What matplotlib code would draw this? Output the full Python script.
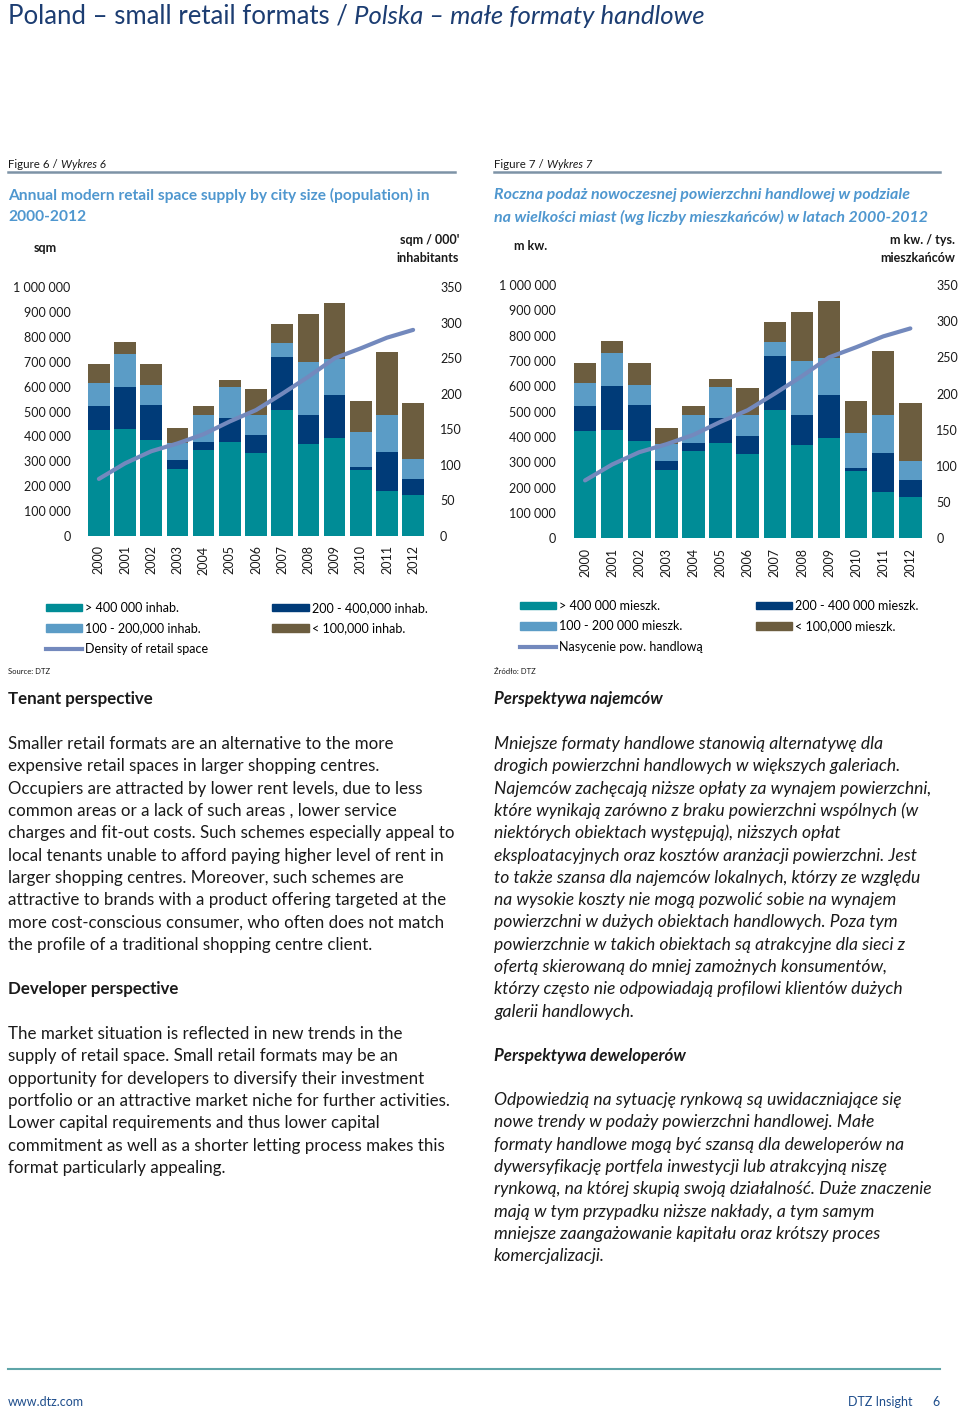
import matplotlib
matplotlib.use("Agg")
import matplotlib.pyplot as plt
from matplotlib.lines import Line2D
from matplotlib.patches import Patch
from matplotlib.ticker import FuncFormatter
import numpy as np

plt.rcParams['font.family'] = ['Lato', 'DejaVu Sans']

# ---- data ----
years = [str(y) for y in range(2000, 2013)]
# new supply per city-size group (sqm)
over_400k = [424000, 428000, 385000, 268000, 344000, 376000, 333000, 507000, 370000, 395000, 266000, 181000, 164000]
from_200_400k = [98000, 172000, 140000, 37000, 32000, 98000, 71000, 214000, 115000, 170000, 12000, 155000, 66000]
from_100_200k = [93000, 130000, 82000, 67000, 109000, 123000, 81000, 55000, 216000, 148000, 139000, 149000, 77000]
under_100k = [76000, 48000, 84000, 63000, 37000, 31000, 107000, 76000, 193000, 223000, 127000, 256000, 229000]
# density of retail space (sqm / 000 inhabitants)
density = [80, 102, 119, 130, 143, 161, 177, 200, 224, 250, 264, 279, 290]

labels_en = ["> 400 000 inhab.", "200 - 400,000 inhab.", "100 - 200,000 inhab.",
             "< 100,000 inhab.", "Density of retail space"]
labels_pl = ["> 400 000 mieszk.", "200 - 400 000 mieszk.", "100 - 200 000 mieszk.",
             "< 100,000 mieszk.", "Nasycenie pow. handlową"]

text_en_1 = [
    "Smaller retail formats are an alternative to the more",
    "expensive retail spaces in larger shopping centres.",
    "Occupiers are attracted by lower rent levels, due to less",
    "common areas or a lack of such areas , lower service",
    "charges and fit-out costs. Such schemes especially appeal to",
    "local tenants unable to afford paying higher level of rent in",
    "larger shopping centres. Moreover, such schemes are",
    "attractive to brands with a product offering targeted at the",
    "more cost-conscious consumer, who often does not match",
    "the profile of a traditional shopping centre client.",
]
text_en_2 = [
    "The market situation is reflected in new trends in the",
    "supply of retail space. Small retail formats may be an",
    "opportunity for developers to diversify their investment",
    "portfolio or an attractive market niche for further activities.",
    "Lower capital requirements and thus lower capital",
    "commitment as well as a shorter letting process makes this",
    "format particularly appealing.",
]
text_pl_1 = [
    "Mniejsze formaty handlowe stanowią alternatywę dla",
    "drogich powierzchni handlowych w większych galeriach.",
    "Najemców zachęcają niższe opłaty za wynajem powierzchni,",
    "które wynikają zarówno z braku powierzchni wspólnych (w",
    "niektórych obiektach występują), niższych opłat",
    "eksploatacyjnych oraz kosztów aranżacji powierzchni. Jest",
    "to także szansa dla najemców lokalnych, którzy ze względu",
    "na wysokie koszty nie mogą pozwolić sobie na wynajem",
    "powierzchni w dużych obiektach handlowych. Poza tym",
    "powierzchnie w takich obiektach są atrakcyjne dla sieci z",
    "ofertą skierowaną do mniej zamożnych konsumentów,",
    "którzy często nie odpowiadają profilowi klientów dużych",
    "galerii handlowych.",
]
text_pl_2 = [
    "Odpowiedzią na sytuację rynkową są uwidaczniające się",
    "nowe trendy w podaży powierzchni handlowej. Małe",
    "formaty handlowe mogą być szansą dla deweloperów na",
    "dywersyfikację portfela inwestycji lub atrakcyjną niszę",
    "rynkową, na której skupią swoją działalność. Duże znaczenie",
    "mają w tym przypadku niższe nakłady, a tym samym",
    "mniejsze zaangażowanie kapitału oraz krótszy proces",
    "komercjalizacji.",
]

# colours
c_teal = "#008c96"
c_navy = "#003b78"
c_light = "#5b9cc6"
c_brown = "#6c5d3f"
c_line = "#7389bd"
c_title = "#1c3d72"
c_sub = "#4f97cf"
c_text = "#1a1a1a"

W, H = 960, 1416
fig = plt.figure(figsize=(W / 100, H / 100), dpi=100)
renderer = fig.canvas.get_renderer()


def px(x, y):
    return x / W, 1 - y / H


def put(x, y, s, **kw):
    kw.setdefault("color", c_text)
    kw.setdefault("va", "center")
    return fig.text(*px(x, y), s, **kw)


def put_parts(x, y, parts, **kw):
    # parts: list of (text, style)
    for s, style in parts:
        t = put(x, y, s, style=style, **kw)
        x += t.get_window_extent(renderer).width


def hline(x0, x1, y, color, lw):
    fig.add_artist(Line2D([x0 / W, x1 / W], [1 - y / H, 1 - y / H],
                          transform=fig.transFigure, color=color, lw=lw))


space_fmt = FuncFormatter(lambda v, p: f"{int(v):,}".replace(",", " "))


def draw_chart(rect, rpad):
    ax = fig.add_axes(rect)
    x = np.arange(len(years))
    bottom = np.zeros(len(years))
    for vals, col in [(over_400k, c_teal), (from_200_400k, c_navy),
                      (from_100_200k, c_light), (under_100k, c_brown)]:
        ax.bar(x, vals, bottom=bottom, width=0.83, color=col, zorder=2)
        bottom += np.array(vals)
    ax.set_xlim(-0.5, len(years) - 0.5)
    ax.set_ylim(0, 1000000)
    ax.set_yticks(np.arange(0, 1000001, 100000))
    ax.yaxis.set_major_formatter(space_fmt)
    ax.set_xticks(x)
    ax.set_xticklabels(years, rotation=90)
    ax.tick_params(length=0, labelsize=9, colors=c_text)
    ax.tick_params(axis="y", pad=11)
    ax.tick_params(axis="x", pad=7)
    for s in ax.spines.values():
        s.set_visible(False)
    ax2 = ax.twinx()
    ax2.plot(x, density, color=c_line, lw=3, solid_capstyle="round", zorder=3)
    ax2.set_ylim(0, 350)
    ax2.set_yticks(np.arange(0, 351, 50))
    ax2.tick_params(length=0, labelsize=9, pad=rpad, colors=c_text)
    for s in ax2.spines.values():
        s.set_visible(False)
    return ax


draw_chart([85.8 / W, 1 - 535.7 / H, 340.4 / W, 248.4 / H], 10)
draw_chart([571.5 / W, 1 - 538.3 / H, 352.4 / W, 253.3 / H], 9)


def add_legend(labels, x, y, colsp):
    handles = [Patch(color=c_teal, label=labels[0]),
               Patch(color=c_light, label=labels[2]),
               Line2D([], [], color=c_line, lw=3, label=labels[4]),
               Patch(color=c_navy, label=labels[1]),
               Patch(color=c_brown, label=labels[3])]
    fig.legend(handles=handles, loc="upper left", bbox_to_anchor=px(x, y),
               ncol=2, frameon=False, fontsize=9, handlelength=2.9,
               handleheight=0.55, handletextpad=0.25, labelspacing=0.68,
               columnspacing=colsp, borderpad=0, borderaxespad=0)


add_legend(labels_en, 46, 602, 5.1)
add_legend(labels_pl, 520, 600, 4.2)

# ---- page text ----
put_parts(8, 16, [("Poland \u2013 small retail formats / ", "normal"),
                  ("Polska \u2013 małe formaty handlowe", "italic")],
          fontsize=18.5, color=c_title)

hline(8, 455, 172, "#7d93a6", 1.8)
hline(494, 940, 172, "#7d93a6", 1.8)
put_parts(8, 164, [("Figure 6 / ", "normal"), ("Wykres 6", "italic")], fontsize=8.3)
put_parts(494, 164, [("Figure 7 / ", "normal"), ("Wykres 7", "italic")], fontsize=8.3)

put(8, 195, "Annual modern retail space supply by city size (population) in", fontsize=11.2,
    color=c_sub, fontweight="bold")
put(8, 217, "2000-2012", fontsize=11.2, color=c_sub, fontweight="bold")
put(494, 195, "Roczna podaż nowoczesnej powierzchni handlowej w podziale", fontsize=11.5,
    color=c_sub, fontweight="bold", style="italic")
put(494, 217, "na wielkości miast (wg liczby mieszkańców) w latach 2000-2012", fontsize=11.5,
    color=c_sub, fontweight="bold", style="italic")

put(45, 248, "sqm", fontsize=9, fontweight="bold", ha="center")
put(459, 240, "sqm / 000'", fontsize=9, fontweight="bold", ha="right")
put(459, 258, "inhabitants", fontsize=9, fontweight="bold", ha="right")
put(531, 246, "m kw.", fontsize=9, fontweight="bold", ha="center")
put(955, 240, "m kw. / tys.", fontsize=9, fontweight="bold", ha="right")
put(955, 258, "mieszkańców", fontsize=9, fontweight="bold", ha="right")

put(8, 671, "Source: DTZ", fontsize=5.5)
put(494, 671, "Źródło: DTZ", fontsize=5.5)

put(8, 699, "Tenant perspective", fontsize=12.2, fontweight="bold")
put(494, 699, "Perspektywa najemców", fontsize=12.2, fontweight="bold", style="italic")

step = 22.3
for i, line in enumerate(text_en_1):
    put(8, 744 + i * step, line, fontsize=12.2)
put(8, 989, "Developer perspective", fontsize=12.2, fontweight="bold")
for i, line in enumerate(text_en_2):
    put(8, 1034 + i * step, line, fontsize=12.2)
for i, line in enumerate(text_pl_1):
    put(494, 744 + i * step, line, fontsize=12.6, style="italic")
put(494, 1056, "Perspektywa deweloperów", fontsize=12.2, fontweight="bold", style="italic")
for i, line in enumerate(text_pl_2):
    put(494, 1100 + i * step, line, fontsize=12.6, style="italic")

hline(8, 940, 1369, "#5fa5a8", 1.5)
put(8, 1402, "www.dtz.com", fontsize=9, color="#1f4e8c")
put(913, 1402, "DTZ Insight", fontsize=9, color="#1f4e8c", ha="right")
put(940, 1402, "6", fontsize=9, color="#1f4e8c", ha="right")

fig.savefig("out.png", dpi=100)
